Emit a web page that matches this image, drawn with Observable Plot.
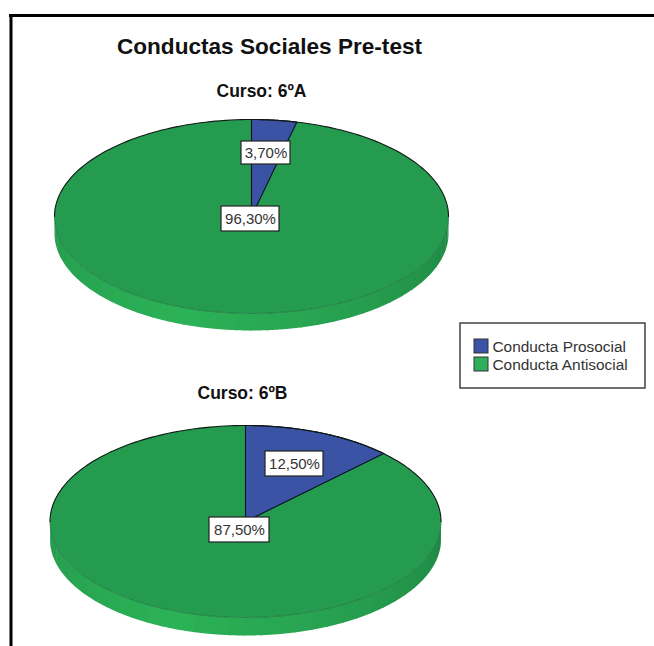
<!DOCTYPE html>
<html><head><meta charset="utf-8">
<script src="https://cdn.jsdelivr.net/npm/d3@7"></script>
<script src="https://cdn.jsdelivr.net/npm/@observablehq/plot@0.6"></script>
<style>html,body{margin:0;padding:0;background:#fff}svg{display:block}</style>
</head><body><div id="chart"></div>
<script>
const title = "Conductas Sociales Pre-test";
const cursos = ["Curso: 6ºA", "Curso: 6ºB"];
const categories = ["Conducta Prosocial", "Conducta Antisocial"];
const prosocial = [3.7, 12.5];
const antisocial = [96.3, 87.5];
const labelsProsocial = ["3,70%", "12,50%"];
const labelsAntisocial = ["96,30%", "87,50%"];
const colors = ["#3a53a4", "#249b4f"];

// layout, in page pixels (x and y scales below are the identity on this frame)
const W = 654, H = 646;
const pies = [
  {cx: 251, cy: 216, rx: 197, ry: 97, depth: 17, titleX: 261, titleY: 91,
   boxes: [{x: 265.5, y: 152.5, w: 49, h: 23}, {x: 250, y: 218.5, w: 58, h: 25}]},
  {cx: 245, cy: 521, rx: 195.5, ry: 96, depth: 18, titleX: 242, titleY: 393,
   boxes: [{x: 294, y: 463.5, w: 58, h: 25}, {x: 239, y: 529.5, w: 60, h: 25}]}
];

const ell = (p, a, dy = 0) => ({x: p.cx + p.rx * Math.sin(a), y: p.cy - p.ry * Math.cos(a) + dy});
const TAU = 2 * Math.PI;
const arc = (p, a0, a1, dy = 0) => d3.range(0, 121).map(i => ell(p, a0 + (a1 - a0) * i / 120, dy));

const marks = [];
// outer frame
marks.push(Plot.ruleY([15], {x1: 9, x2: 654, stroke: "#000", strokeWidth: 3}));
marks.push(Plot.ruleX([10.5], {y1: 14, y2: 646, stroke: "#000", strokeWidth: 3}));

pies.forEach((p, k) => {
  // side wall: shaded bands around the visible lower half
  const sideShade = d3.scaleLinear().domain([0, 0.55, 1]).range(["#1e8743", "#27a050", "#2bb257"]);
  const n = 36;
  d3.range(n).forEach(i => {
    const a0 = TAU / 4 + i * (TAU / 2) / n, a1 = a0 + (TAU / 2) / n + 0.01;
    const mid = (i + 0.5) / n;
    const t = 1 - Math.abs(mid - 0.62) / 0.62;
    const top = arc(p, a0, a1), bot = arc(p, a0, a1, p.depth).reverse();
    marks.push(Plot.line([...top, ...bot], {x: "x", y: "y", fill: sideShade(Math.max(0, t)), stroke: null}));
  });
  // top face, from the values
  const total = prosocial[k] + antisocial[k];
  const split = prosocial[k] / total * TAU;
  const centre = {x: p.cx, y: p.cy};
  marks.push(Plot.line([...arc(p, 0, TAU)], {x: "x", y: "y", fill: colors[1], stroke: null}));
  marks.push(Plot.line([...arc(p, TAU / 4, 3 * TAU / 4)], {x: "x", y: "y", stroke: "#1a6b37", strokeWidth: 0.7}));
  marks.push(Plot.line([centre, ...arc(p, 0, split), centre], {x: "x", y: "y", fill: colors[0], stroke: "#0b0f25", strokeWidth: 1.1}));
  marks.push(Plot.line(arc(p, -TAU / 4, TAU / 4), {x: "x", y: "y", stroke: "#101a14", strokeWidth: 1.1}));
  // titles and value labels
  marks.push(Plot.text([cursos[k]], {x: () => p.titleX, y: () => p.titleY, text: d => d, fontSize: 17.5, fontWeight: "bold", fill: "#111"}));
  [labelsProsocial[k], labelsAntisocial[k]].forEach((label, j) => {
    const b = p.boxes[j];
    marks.push(Plot.rect([label], {x1: () => b.x - b.w / 2, x2: () => b.x + b.w / 2, y1: () => b.y - b.h / 2, y2: () => b.y + b.h / 2, fill: "#fff", stroke: "#222", strokeWidth: 1.2}));
    marks.push(Plot.text([label], {x: () => b.x, y: () => b.y, text: d => d, fontSize: 15, fill: "#333"}));
  });
});

marks.push(Plot.text([title], {x: () => 269, y: () => 46, text: d => d, fontSize: 22.6, fontWeight: "bold", fill: "#111"}));

// legend
marks.push(Plot.rect([0], {x1: () => 460, x2: () => 645, y1: () => 323, y2: () => 388, fill: "#fff", stroke: "#333", strokeWidth: 1.4}));
categories.forEach((c, i) => {
  const y = [346, 364][i];
  marks.push(Plot.rect([c], {x1: () => 474, x2: () => 488, y1: () => y - 7, y2: () => y + 7, fill: colors[i] === "#249b4f" ? "#2eaf5b" : colors[i], stroke: "#333", strokeWidth: 1}));
  marks.push(Plot.text([c], {x: () => 492, y: () => y + 1, text: d => d, textAnchor: "start", fontSize: 15.4, fill: "#333"}));
});

const chart = Plot.plot({
  width: W, height: H, margin: 0,
  style: {fontFamily: "'Liberation Sans', Arial, sans-serif", background: "#fff"},
  x: {type: "linear", domain: [0, W], range: [0, W], axis: null},
  y: {type: "linear", domain: [0, H], range: [0, H], axis: null},
  marks
});
document.getElementById("chart").append(chart);
</script></body></html>
